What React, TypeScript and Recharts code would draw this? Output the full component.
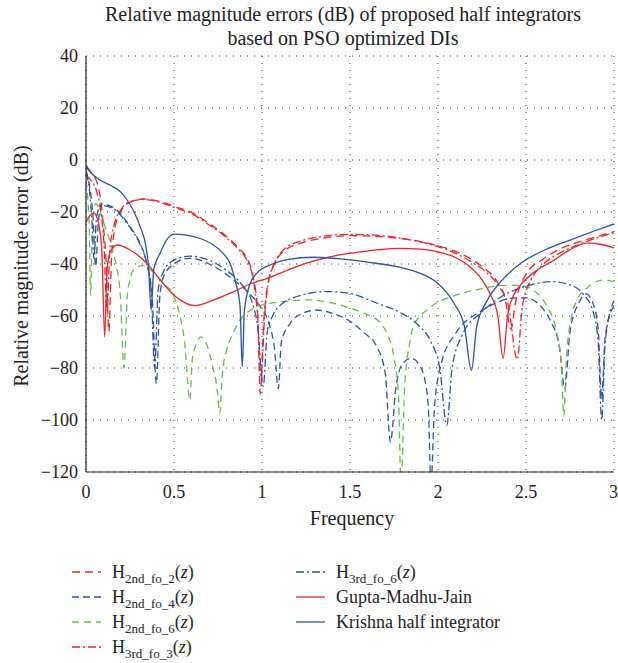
import { LineChart, Line, XAxis, YAxis, CartesianGrid } from 'recharts';

type Pt = [number, number];

const FONT = "'Liberation Serif', 'Times New Roman', serif";
const RED = '#e8262b';
const BLUE = '#2c52a6';
const GREEN = '#66bb44';

const xTicks = [0, 0.5, 1, 1.5, 2, 2.5, 3];
const yTicks = [40, 20, 0, -20, -40, -60, -80, -100, -120];

// [frequency, dB]
const h2ndFo2: Pt[] = [
  [0, -3], [0.03, -5], [0.064, -9], [0.085, -16], [0.1, -26], [0.115, -40], [0.13, -66],
  [0.145, -38], [0.165, -26], [0.2, -19.5], [0.25, -16.3], [0.33, -15], [0.42, -16],
  [0.5, -17.8], [0.61, -20.5], [0.7, -24.5], [0.8, -29.5], [0.87, -34], [0.91, -37.2],
  [0.95, -45], [0.975, -58], [0.99, -90], [1.01, -62], [1.03, -48.7], [1.07, -40],
  [1.12, -35.3], [1.23, -31.8], [1.35, -30], [1.5, -29.1], [1.67, -29.5], [1.8, -30.3],
  [1.9, -31.4], [2.05, -34], [2.18, -37.8], [2.26, -41.5], [2.33, -46.2], [2.38, -53],
  [2.415, -65], [2.44, -55], [2.5, -44], [2.6, -38], [2.7, -34], [2.8, -31.5],
  [2.9, -29.5], [3, -27.5],
];

const h2ndFo4: Pt[] = [
  [0, -4], [0.02, -10], [0.04, -22], [0.055, -41], [0.07, -24], [0.09, -17], [0.15, -18],
  [0.2, -21], [0.25, -25.6], [0.3, -31], [0.345, -39.7], [0.375, -52], [0.4, -86],
  [0.42, -52], [0.44, -45], [0.5, -40], [0.59, -37.8], [0.7, -40], [0.84, -46.2],
  [0.93, -51.5], [0.99, -56.4], [1.04, -63], [1.07, -72], [1.093, -88], [1.11, -70],
  [1.16, -62.8], [1.23, -59], [1.31, -57.7], [1.4, -59], [1.5, -62], [1.58, -66.5],
  [1.65, -71.5], [1.7, -82], [1.73, -108.5], [1.76, -88], [1.8, -78.2], [1.85, -76.3],
  [1.89, -78.5], [1.92, -83], [1.945, -95], [1.96, -125], [1.98, -95], [2.02, -78],
  [2.1, -66.7], [2.24, -58.3], [2.33, -55], [2.41, -53.2], [2.5, -53], [2.58, -56],
  [2.64, -62], [2.69, -72], [2.72, -88], [2.75, -66], [2.8, -55], [2.84, -51.5],
  [2.88, -55], [2.91, -65], [2.93, -92], [2.95, -68], [3, -56],
];

const h2ndFo6: Pt[] = [
  [0, -8], [0.01, -15], [0.02, -30], [0.026, -52], [0.035, -28], [0.045, -19],
  [0.055, -16.7], [0.07, -18], [0.1, -24], [0.14, -32], [0.17, -40], [0.195, -52],
  [0.216, -80], [0.235, -52], [0.25, -46], [0.27, -42.3], [0.32, -40.6], [0.38, -43],
  [0.44, -47.4], [0.5, -52.6], [0.534, -60], [0.56, -70], [0.59, -92.3], [0.605, -76],
  [0.63, -70.5], [0.65, -68], [0.68, -70], [0.72, -79.5], [0.745, -88], [0.76, -97.4],
  [0.775, -82], [0.8, -73], [0.84, -66], [0.875, -61.5], [0.93, -58], [1, -55.8],
  [1.12, -54.5], [1.27, -53.8], [1.4, -55], [1.5, -57], [1.6, -59.5], [1.67, -62.5],
  [1.71, -66.7], [1.75, -76], [1.775, -90], [1.79, -125], [1.81, -88], [1.84, -70],
  [1.86, -64], [1.95, -57], [2.1, -52], [2.25, -49.5], [2.35, -48.3], [2.45, -48.2],
  [2.5, -48.7], [2.56, -51], [2.62, -56.4], [2.67, -65], [2.7, -78], [2.715, -98.5],
  [2.73, -76], [2.76, -60], [2.79, -53.8], [2.85, -49], [2.94, -46.2], [3, -46.8],
];

const h3rdFo3: Pt[] = [
  [0, -6], [0.03, -8], [0.06, -12], [0.085, -20], [0.1, -30], [0.12, -58], [0.135, -35],
  [0.16, -25], [0.2, -19], [0.25, -16], [0.33, -15.2], [0.42, -16.3], [0.5, -18.2],
  [0.61, -21], [0.7, -25], [0.8, -30], [0.87, -34.6], [0.91, -38], [0.95, -46],
  [0.975, -60], [0.995, -84], [1.015, -60], [1.04, -46], [1.08, -38.5], [1.13, -34],
  [1.23, -31], [1.35, -29.3], [1.5, -28.6], [1.67, -29], [1.8, -30.2], [1.9, -31.5],
  [2.05, -34.5], [2.18, -38.8], [2.28, -43.5], [2.35, -49], [2.4, -56], [2.45, -76.7],
  [2.48, -56], [2.53, -46], [2.6, -40], [2.7, -35.5], [2.8, -32.5], [2.9, -30], [3, -28],
];

const h3rdFo6: Pt[] = [
  [0, -5], [0.02, -12], [0.035, -25], [0.045, -38], [0.06, -22], [0.085, -17.5],
  [0.15, -18.5], [0.2, -21.5], [0.25, -26], [0.3, -31.5], [0.34, -38.5], [0.37, -50],
  [0.39, -80], [0.41, -50], [0.44, -43], [0.5, -38.5], [0.59, -37], [0.7, -38.5],
  [0.8, -42.5], [0.88, -47.5], [0.94, -54], [0.975, -64], [1.007, -87], [1.03, -66],
  [1.06, -60], [1.12, -55], [1.2, -52.5], [1.37, -50.6], [1.5, -51.3], [1.65, -55],
  [1.78, -58.5], [1.88, -63], [1.96, -70], [2.01, -80], [2.05, -102], [2.08, -80],
  [2.14, -67], [2.24, -59], [2.35, -53], [2.5, -48.5], [2.65, -46.8], [2.75, -48],
  [2.83, -52], [2.88, -58], [2.91, -70], [2.93, -100], [2.95, -70], [3, -54],
];

const guptaMadhuJain: Pt[] = [
  [0, -24], [0.02, -21.5], [0.045, -20.4], [0.07, -24], [0.09, -35], [0.106, -68],
  [0.12, -42], [0.14, -35], [0.178, -32.7], [0.25, -34.6], [0.345, -39.7], [0.42, -46],
  [0.5, -52], [0.62, -56], [0.72, -54], [0.84, -50.6], [0.94, -47.5], [1.03, -45.5],
  [1.22, -40.4], [1.36, -37.6], [1.5, -35.9], [1.65, -34.6], [1.78, -34], [1.9, -34.3],
  [2, -35.3], [2.1, -37.5], [2.18, -41], [2.25, -46], [2.3, -52], [2.34, -60],
  [2.37, -76.3], [2.395, -60], [2.43, -52], [2.47, -48], [2.55, -43], [2.66, -38.5],
  [2.75, -34.5], [2.85, -32], [2.93, -32.5], [3, -33.8],
];

const krishna: Pt[] = [
  [0, -2], [0.03, -5], [0.08, -7.7], [0.14, -9.8], [0.19, -11.8], [0.23, -15],
  [0.27, -19.5], [0.31, -26], [0.34, -33], [0.355, -41], [0.37, -57.7], [0.385, -42],
  [0.42, -36], [0.46, -30.5], [0.506, -28.5], [0.56, -28.8], [0.64, -30], [0.72, -32.5],
  [0.78, -36], [0.82, -40], [0.85, -47], [0.875, -56], [0.888, -79.5], [0.9, -58],
  [0.93, -48], [0.97, -43.6], [1.045, -40.4], [1.15, -38.2], [1.29, -37.4], [1.45, -38],
  [1.6, -39.3], [1.78, -41.2], [1.9, -43.6], [2, -47.5], [2.09, -55], [2.15, -64],
  [2.19, -81], [2.22, -64], [2.28, -54], [2.36, -46.5], [2.47, -39.7], [2.6, -34.8],
  [2.75, -30.8], [2.88, -27.5], [3, -24.6],
];

const series = [
  { id: 'h2ndFo2', pts: h2ndFo2, color: RED, dash: '8 5', sub: '2nd_fo_2', name: '' },
  { id: 'h2ndFo4', pts: h2ndFo4, color: BLUE, dash: '7 4', sub: '2nd_fo_4', name: '' },
  { id: 'h2ndFo6', pts: h2ndFo6, color: GREEN, dash: '7 5', sub: '2nd_fo_6', name: '' },
  { id: 'h3rdFo3', pts: h3rdFo3, color: RED, dash: '8 3 2 3', sub: '3rd_fo_3', name: '' },
  { id: 'h3rdFo6', pts: h3rdFo6, color: BLUE, dash: '8 3 2 3', sub: '3rd_fo_6', name: '' },
  { id: 'gmj', pts: guptaMadhuJain, color: RED, dash: undefined, sub: '', name: 'Gupta-Madhu-Jain' },
  { id: 'krishna', pts: krishna, color: BLUE, dash: undefined, sub: '', name: 'Krishna half integrator' },
];

const fmt = (v: number) => (v < 0 ? `\u2212${Math.abs(v)}` : `${v}`);
const noLabel = () => <g />;

const YLabel = () => (
  <text x={21} y={266} transform="rotate(-90 21 266)" textAnchor="middle"
    dominantBaseline="central" fontFamily={FONT} fontSize={20} fill="#222">
    Relative magnitude error (dB)
  </text>
);

const XLabel = () => (
  <text x={352} y={518} textAnchor="middle" dominantBaseline="central"
    fontFamily={FONT} fontSize={20} fill="#222">
    Frequency
  </text>
);

const LegendItem = ({ s, x, y }: { s: typeof series[number]; x: number; y: number }) => (
  <g>
    <line x1={x} y1={y} x2={x + 29} y2={y} stroke={s.color} strokeWidth={1.3}
      strokeDasharray={s.dash} />
    <text x={x + 40} y={y + 6} fontFamily={FONT} fontSize={18} fill="#222">
      {s.sub ? (
        <>
          <tspan>H</tspan>
          <tspan fontSize={13} dy={5}>{s.sub}</tspan>
          <tspan dy={-5}>(</tspan>
          <tspan fontStyle="italic">z</tspan>
          <tspan>)</tspan>
        </>
      ) : s.name}
    </text>
  </g>
);

export default function App() {
  return (
    <div style={{ position: 'absolute', left: 0, top: 0, width: 618, height: 663, background: '#fff' }}>
      <svg width={618} height={52} style={{ position: 'absolute', left: 0, top: 0 }}>
        <text x={343} y={21} textAnchor="middle" fontFamily={FONT} fontSize={20} fill="#222">
          Relative magnitude errors (dB) of proposed half integrators
        </text>
        <text x={343} y={45} textAnchor="middle" fontFamily={FONT} fontSize={20} fill="#222">
          based on PSO optimized DIs
        </text>
      </svg>
      <div style={{ position: 'absolute', left: 0, top: 0 }}>
        <LineChart width={618} height={540} margin={{ top: 56, right: 4, bottom: 18, left: 0 }}>
          <CartesianGrid stroke="#333" strokeDasharray="1 6" />
          <XAxis xAxisId={2} orientation="bottom" type="number" domain={[0, 3]} ticks={xTicks}
            mirror height={0} tickSize={5} tick={noLabel} axisLine={false} stroke="#222" />
          <XAxis xAxisId={0} dataKey="f" type="number" domain={[0, 3]} ticks={xTicks}
            allowDataOverflow tickLine={false} tickMargin={7} height={50}
            stroke="#222" strokeWidth={1.2}
            tick={{ fontFamily: FONT, fontSize: 18, fill: '#222' }} label={<XLabel />} />
          <XAxis xAxisId={1} orientation="top" type="number" domain={[0, 3]} ticks={xTicks}
            mirror height={0} tickSize={5} tick={noLabel} stroke="#222" strokeWidth={1.2} />
          <YAxis yAxisId={2} orientation="left" type="number" domain={[-120, 40]} ticks={yTicks}
            mirror width={0} tickSize={5} tick={noLabel} axisLine={false} stroke="#222" />
          <YAxis yAxisId={0} type="number" domain={[-120, 40]} ticks={yTicks}
            allowDataOverflow tickLine={false} width={86} tickFormatter={fmt}
            stroke="#222" strokeWidth={1.2}
            tick={{ fontFamily: FONT, fontSize: 18, fill: '#222' }} label={<YLabel />} />
          <YAxis yAxisId={1} orientation="right" type="number" domain={[-120, 40]} ticks={yTicks}
            mirror width={0} tickSize={5} tick={noLabel} stroke="#222" strokeWidth={1.2} />
          {series.map((s) => (
            <Line key={s.id} xAxisId={0} yAxisId={0} data={s.pts.map(([f, db]) => ({ f, db }))}
              dataKey="db" type="monotone" stroke={s.color} strokeWidth={1.3}
              strokeDasharray={s.dash} dot={false} activeDot={false} isAnimationActive={false} />
          ))}
        </LineChart>
      </div>
      <svg width={618} height={123} style={{ position: 'absolute', left: 0, top: 540 }}>
        {series.slice(0, 4).map((s, i) => (
          <LegendItem key={s.id} s={s} x={72} y={32 + i * 25} />
        ))}
        {series.slice(4).map((s, i) => (
          <LegendItem key={s.id} s={s} x={296} y={32 + i * 25} />
        ))}
      </svg>
    </div>
  );
}
